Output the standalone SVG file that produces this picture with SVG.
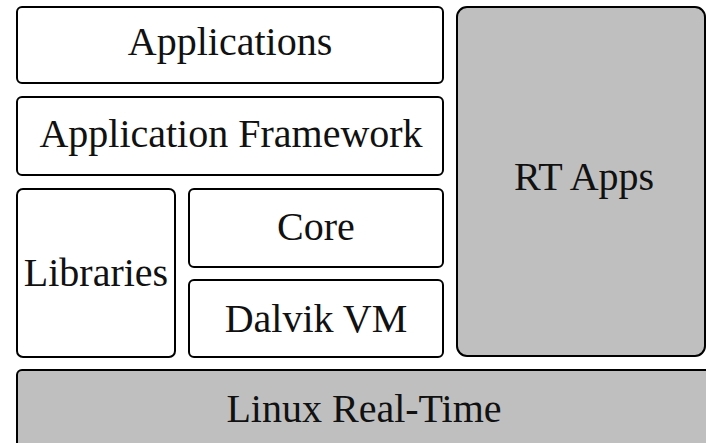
<svg xmlns="http://www.w3.org/2000/svg" width="706" height="443" viewBox="0 0 706 443">
<style>
.box{fill:#ffffff;stroke:#000000;stroke-width:2}
.gray{fill:#bfbfbf;stroke:#000000;stroke-width:2}
text{font-family:"Liberation Serif","Times New Roman",serif;font-size:40px;fill:#111111;text-anchor:middle}
</style>
<rect width="706" height="443" fill="#ffffff"/>
<g id="applications">
<rect class="box" x="17" y="7" width="426" height="76" rx="5"/>
<text x="230" y="55">Applications</text>
</g>
<g id="framework">
<rect class="box" x="17" y="97" width="426" height="78" rx="5"/>
<text x="231" y="147">Application Framework</text>
</g>
<g id="libraries">
<rect class="box" x="17" y="189" width="158" height="168" rx="6"/>
<text x="96" y="286">Libraries</text>
</g>
<g id="core">
<rect class="box" x="189" y="189" width="254" height="78" rx="5"/>
<text x="316" y="240">Core</text>
</g>
<g id="dalvik">
<rect class="box" x="189" y="280" width="254" height="77" rx="5"/>
<text x="316" y="332">Dalvik VM</text>
</g>
<g id="rtapps">
<rect class="gray" x="457" y="7" width="248" height="349" rx="10"/>
<text x="584" y="190">RT Apps</text>
</g>
<g id="linux">
<rect class="gray" x="17" y="370" width="710" height="100" rx="5"/>
<text x="364" y="422">Linux Real-Time</text>
</g>
<g id="connectors"></g>
</svg>
